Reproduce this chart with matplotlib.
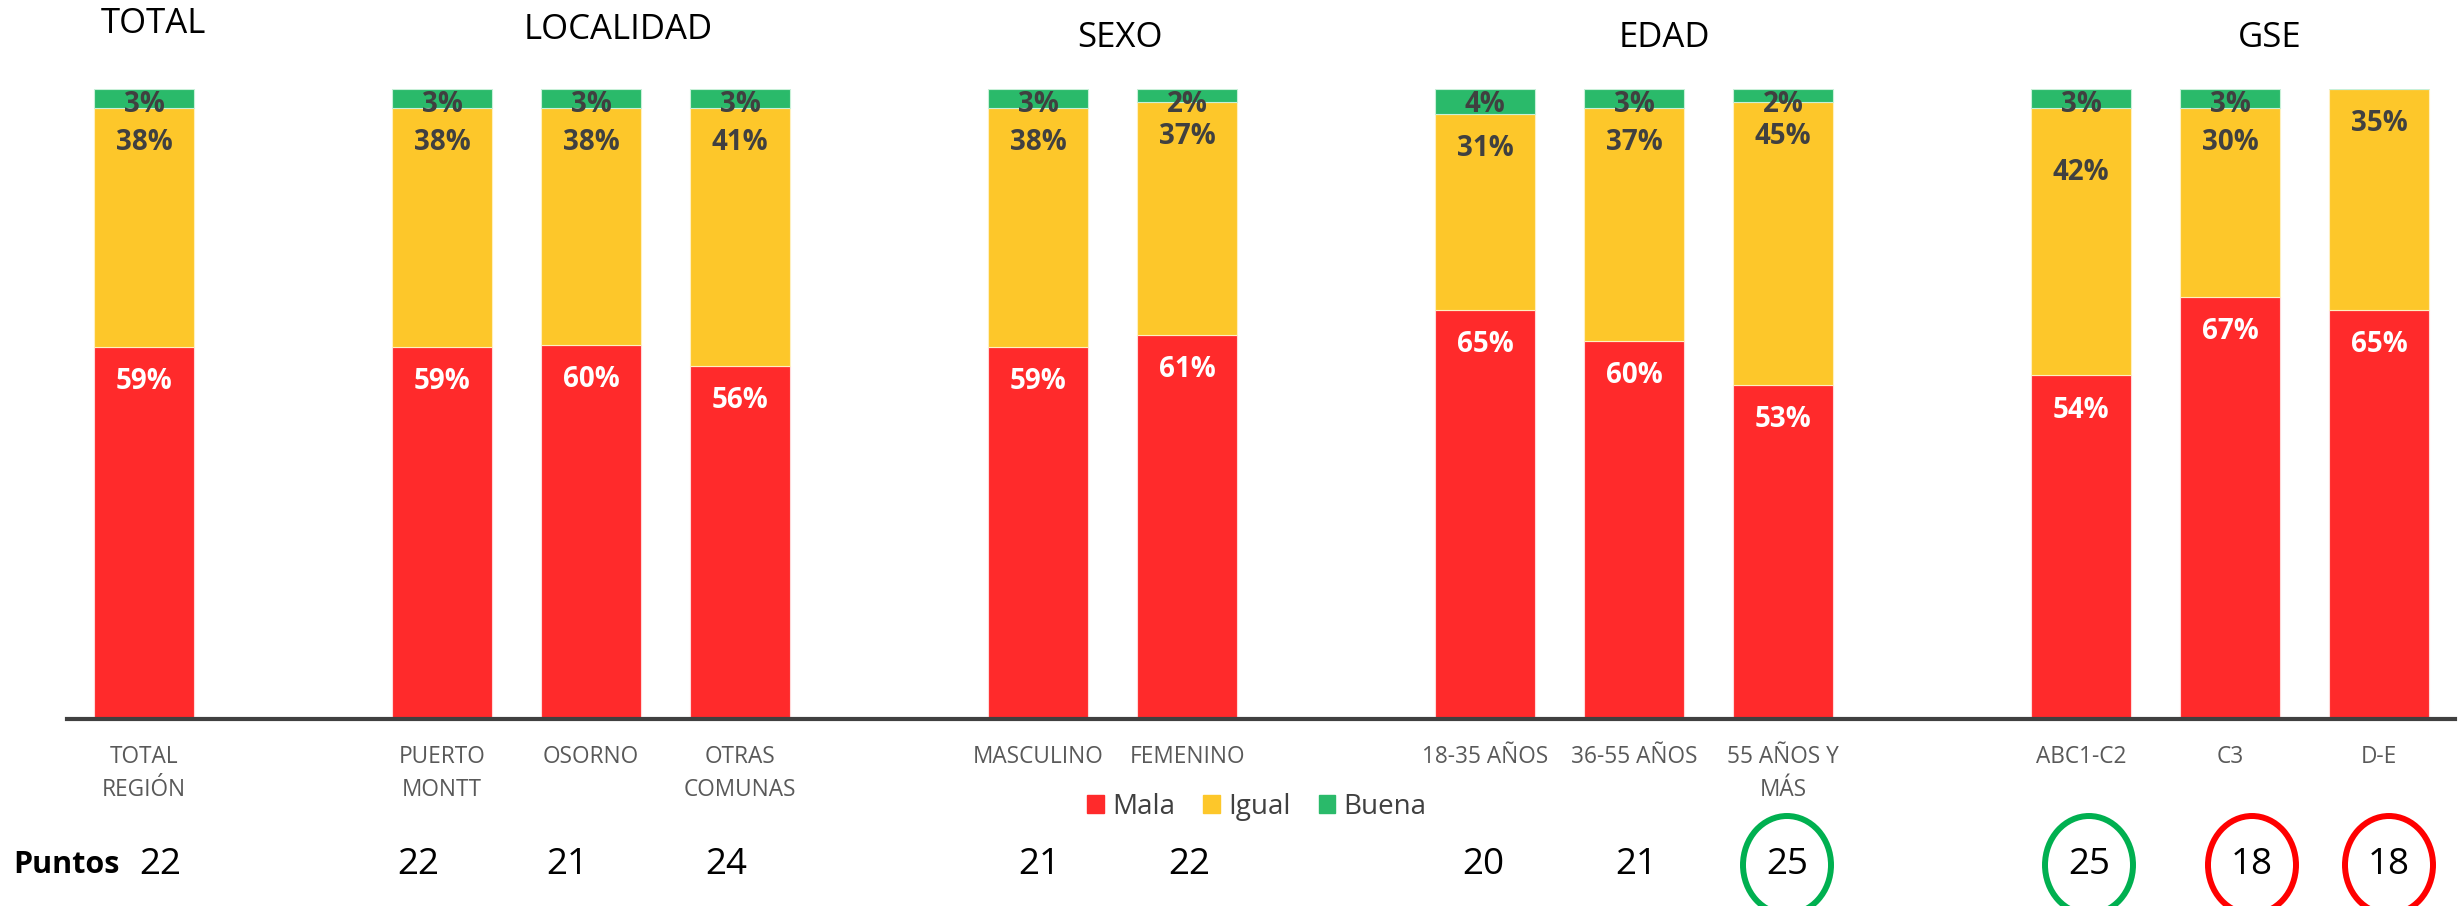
import matplotlib
matplotlib.use("Agg")
import matplotlib.pyplot as plt
from matplotlib.patches import Patch, Ellipse

plt.rcParams['font.family'] = ['Open Sans', 'DejaVu Sans']

# categories and their slot on the x axis (empty slots separate the groups)
categories = ["TOTAL\nREGIÓN", "PUERTO\nMONTT", "OSORNO", "OTRAS\nCOMUNAS",
              "MASCULINO", "FEMENINO",
              "18-35 AÑOS", "36-55 AÑOS", "55 AÑOS Y\nMÁS",
              "ABC1-C2", "C3", "D-E"]
slots = [0, 2, 3, 4, 6, 7, 9, 10, 11, 13, 14, 15]

mala = [59, 59, 60, 56, 59, 61, 65, 60, 53, 54, 67, 65]
igual = [38, 38, 38, 41, 38, 37, 31, 37, 45, 42, 30, 35]
buena = [3, 3, 3, 3, 3, 2, 4, 3, 2, 3, 3, 0]

puntos = [22, 22, 21, 24, 21, 22, 20, 21, 25, 25, 18, 18]
# circled scores: None = no circle
puntos_circle = [None, None, None, None, None, None, None, None,
                 "green", "green", "red", "red"]

groups = ["TOTAL", "LOCALIDAD", "SEXO", "EDAD", "GSE"]

RED = "#FF2A2B"
YELLOW = "#FDC72A"
GREEN = "#2ABA6A"
DARK = "#404040"

W, H = 2460, 906
fig = plt.figure(figsize=(W / 100, H / 100), dpi=100)
ax = fig.add_axes([67 / W, 1 - 719 / H, (2455 - 67) / W, (719 - 89) / H])

# bars normalised to 100%
tot = [m + i + b for m, i, b in zip(mala, igual, buena)]
m_n = [100 * m / t for m, t in zip(mala, tot)]
i_n = [100 * i / t for i, t in zip(igual, tot)]
b_n = [100 * b / t for b, t in zip(buena, tot)]

bw = 0.665
ax.bar(slots, m_n, bw, color=RED, edgecolor="#FFD9D9", linewidth=0.8)
ax.bar(slots, i_n, bw, bottom=m_n, color=YELLOW, edgecolor="#FFF0C0", linewidth=0.8)
bot2 = [a + b for a, b in zip(m_n, i_n)]
ax.bar(slots, b_n, bw, bottom=bot2, color=GREEN, edgecolor="#C8F0D8", linewidth=0.8)

# label offsets below the segment top (the ABC1-C2 "Igual" label sits lower)
igual_drop = [5.5] * 9 + [10.2, 5.5, 5.5]

lab_kw = dict(ha="center", va="center", fontsize=20, fontweight="bold")
for x, m, i, b, mv, iv, bv, d in zip(slots, m_n, i_n, b_n, mala, igual, buena, igual_drop):
    ax.text(x, m - 5.5, f"{mv}%", color="white", **lab_kw)
    ax.text(x, m + i - d, f"{iv}%", color=DARK, **lab_kw)
    if bv > 0:
        ax.text(x, m + i + b - 2.4, f"{bv}%", color=DARK, **lab_kw)

ax.set_xlim(-0.517, 15.51)
ax.set_ylim(0, 100)
for s in ["top", "right", "left"]:
    ax.spines[s].set_visible(False)
ax.spines["bottom"].set_color(DARK)
ax.spines["bottom"].set_linewidth(3)
ax.set_yticks([])
ax.set_xticks(slots)
ax.set_xticklabels(categories, fontsize=16.3, color="#595959", linespacing=1.5)
ax.tick_params(axis="x", length=0, pad=19)

# group titles
title_pos = [(153, 24), (618, 30), (1120, 38), (1664, 38), (2270, 38)]
for g, (px, py) in zip(groups, title_pos):
    fig.text(px / W, 1 - py / H, g, ha="center", va="center", fontsize=25, color="black")

# legend
handles = [Patch(color=RED), Patch(color=YELLOW), Patch(color=GREEN)]
leg = ax.legend(handles, ["Mala", "Igual", "Buena"], loc="center",
                bbox_to_anchor=(1257 / W, 1 - 807 / H), bbox_transform=fig.transFigure,
                ncol=3, frameon=False, fontsize=20, handlelength=0.6, handleheight=0.6,
                handletextpad=0.3, columnspacing=1.0)
for t in leg.get_texts():
    t.set_color(DARK)

# puntos row (pixel x of each score box)
puntos_px = [160, 418, 567, 726, 1039, 1189, 1483, 1636, 1787, 2089, 2252, 2389]
py = 1 - 865 / H
fig.text(13 / W, py, "Puntos", ha="left", va="center", fontsize=22,
         fontweight="bold", color="black")
for px, p, c in zip(puntos_px, puntos, puntos_circle):
    fig.text(px / W, py, str(p), ha="center", va="center", fontsize=26.5, color="black")
    if c is not None:
        ec = "#00B050" if c == "green" else "#FF0000"
        fig.add_artist(Ellipse((px / W, py), 88 / W, 98 / H, transform=fig.transFigure,
                               fill=False, edgecolor=ec, linewidth=4.3))

fig.savefig("out.png", dpi=100)
